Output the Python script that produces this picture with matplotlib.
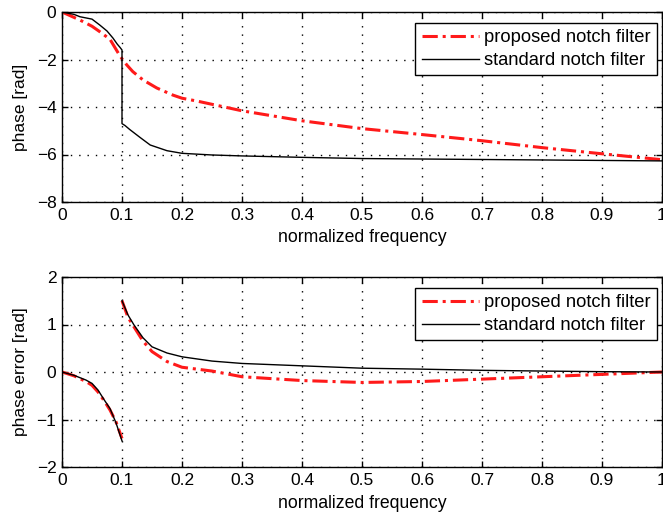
import numpy as np
import matplotlib
matplotlib.use("Agg")
import matplotlib.pyplot as plt

plt.rcParams['font.family'] = ['Liberation Sans', 'DejaVu Sans']

nan = np.nan

# top panel: phase
freq_std = [0, 0.02, 0.03, 0.05, 0.063, 0.075, 0.085, 0.092, 0.097, 0.1, 0.1,
            0.105, 0.113, 0.13, 0.147, 0.175, 0.2, 0.25, 0.3, 0.4, 0.5, 0.6,
            0.7, 0.8, 0.9, 1.0]
phase_std = [0, -0.1, -0.2, -0.3, -0.55, -0.8, -1.1, -1.35, -1.5, -1.6, -4.7,
             -4.78, -4.95, -5.28, -5.6, -5.84, -5.95, -6.02, -6.06, -6.12, -6.17,
             -6.19, -6.21, -6.23, -6.25, -6.27]

freq_prop = [0, 0.03, 0.05, 0.063, 0.08, 0.094, 0.1, 0.108, 0.118, 0.135, 0.158,
             0.185, 0.2, 0.225, 0.3, 0.4, 0.5, 0.6, 0.7, 0.8, 0.9, 1.0]
phase_prop = [0, -0.34, -0.6, -0.83, -1.15, -1.74, -1.97, -2.23, -2.51, -2.86,
              -3.2, -3.5, -3.63, -3.75, -4.16, -4.58, -4.91, -5.16, -5.42, -5.71,
              -5.97, -6.22]

# bottom panel: phase error
freq_err = [0, 0.02, 0.04, 0.05, 0.06, 0.07, 0.08, 0.09, 0.1, nan, 0.1, 0.11,
            0.12, 0.135, 0.15, 0.175, 0.2, 0.25, 0.3, 0.4, 0.5, 0.6, 0.7, 0.8,
            0.9, 1.0]
err_std = [0, -0.07, -0.17, -0.24, -0.38, -0.58, -0.77, -1.07, -1.45, nan, 1.5,
           1.2, 0.99, 0.72, 0.53, 0.4, 0.32, 0.23, 0.18, 0.13, 0.08, 0.06, 0.035,
           0.02, 0.007, 0.0]
err_prop = [0, -0.08, -0.2, -0.28, -0.42, -0.6, -0.8, -1.05, -1.4, nan, 1.5,
            1.15, 0.95, 0.65, 0.43, 0.22, 0.1, 0.02, -0.1, -0.18, -0.22, -0.2,
            -0.15, -0.1, -0.05, 0.0]

xticks = np.round(np.arange(0, 1.01, 0.1), 1)
xticklabels = ['0', '0.1', '0.2', '0.3', '0.4', '0.5', '0.6', '0.7', '0.8', '0.9', '1']

W, H = 663, 518
fig = plt.figure(figsize=(W / 100, H / 100), dpi=100)

def px_axes(x0, y0, x1, y1):
    return fig.add_axes([x0 / W, 1 - y1 / H, (x1 - x0) / W, (y1 - y0) / H])

ax1 = px_axes(62, 12, 662, 202)
ax2 = px_axes(62, 277, 662, 467)

red_style = dict(color='#ff1a1a', lw=2.2, linestyle=(0, (5, 1.6, 1, 1.6)))
black_style = dict(color='black', lw=1.0)

ax1.plot(freq_prop, phase_prop, label='proposed notch filter', **red_style)
ax1.plot(freq_std, phase_std, label='standard notch filter', **black_style)
ax1.set_ylim(-8, 0)
ax1.set_yticks([-8, -6, -4, -2, 0])
ax1.set_ylabel('phase [rad]')

ax2.plot(freq_err, err_prop, label='proposed notch filter', **red_style)
ax2.plot(freq_err, err_std, label='standard notch filter', **black_style)
ax2.set_ylim(-2, 2)
ax2.set_yticks([-2, -1, 0, 1, 2])
ax2.set_ylabel('phase error [rad]')

for ax in (ax1, ax2):
    ax.set_xlim(0, 1)
    ax.set_xticks(xticks)
    ax.set_xticklabels(xticklabels)
    ax.set_xlabel('normalized frequency', fontsize=12.7, labelpad=5)
    ax.yaxis.label.set_size(12.5)
    ax.yaxis.labelpad = 6
    ax.tick_params(direction='in', top=True, right=True, length=4, width=1,
                   labelsize=12.5, pad=4)
    ax.grid(True, color='black', linestyle=(0, (1, 5)), lw=1)
    for s in ax.spines.values():
        s.set_linewidth(1)
    leg = ax.legend(loc='upper right', bbox_to_anchor=(0.992, 0.942),
                    borderaxespad=0, fancybox=False, framealpha=1,
                    edgecolor='black', fontsize=13.2, handlelength=3.1,
                    handletextpad=0.3, borderpad=0.35, labelspacing=0.3)
    leg.get_frame().set_linewidth(1)

fig.savefig('out.png', dpi=100)
